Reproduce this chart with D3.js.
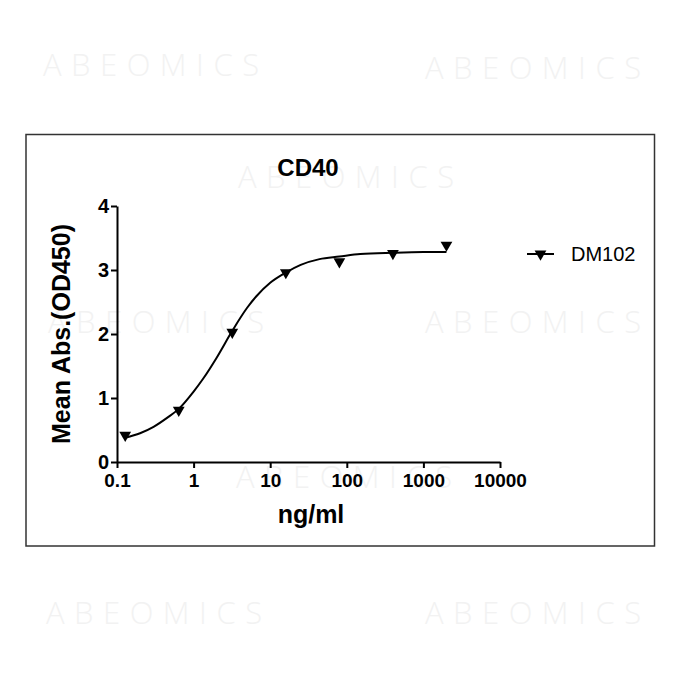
<!DOCTYPE html>
<html>
<head>
<meta charset="utf-8">
<script src="https://cdn.jsdelivr.net/npm/d3@7"></script>
<style>
  body { margin: 0; background: #fff; }
  svg text { font-family: Arial, "Liberation Sans", sans-serif; }
</style>
</head>
<body>
<svg id="chart" width="680" height="680"></svg>
<script>
// measured points (ng/ml vs OD450)
const concentrations = [0.128, 0.64, 3.2, 16, 80, 400, 2000];
const absorbance = [0.42, 0.81, 2.03, 2.96, 3.13, 3.26, 3.39];

// fitted curve
const fitX = [0.128, 0.2, 0.3, 0.45, 0.64, 1, 1.33, 2, 3.2, 5, 6.6, 10, 16, 25, 44, 80, 150, 400, 1000, 2000];
const fitY = [0.38, 0.45, 0.55, 0.69, 0.83, 1.10, 1.30, 1.63, 2.05, 2.41, 2.59, 2.80, 2.96, 3.08, 3.17, 3.21, 3.25, 3.27, 3.28, 3.28];

const xTicks = [0.1, 1, 10, 100, 1000, 10000];
const xTickLabels = ["0.1", "1", "10", "100", "1000", "10000"];
const yTicks = [0, 1, 2, 3, 4];
const seriesName = "DM102";
const watermarkText = "ABEOMICS";

const svg = d3.select("#chart");

// Faint watermarks behind everything
const marks = [[43, 76], [425, 79], [238, 188], [48, 333], [425, 333], [236, 488], [46, 624], [425, 624]];
marks.forEach(m => {
  svg.append("text")
    .attr("x", m[0])
    .attr("y", m[1])
    .attr("fill", "#f2f2f2")
    .style("font-family", "'Open Sans', sans-serif")
    .style("font-weight", 300)
    .style("font-size", "31px")
    .style("letter-spacing", "9.5px")
    .text(watermarkText);
});

// Outer frame
svg.append("rect")
  .attr("x", 26)
  .attr("y", 134.5)
  .attr("width", 628.5)
  .attr("height", 411.5)
  .attr("fill", "none")
  .attr("stroke", "#333")
  .attr("stroke-width", 1.5);

// Scales
const x = d3.scaleLog().domain([0.1, 10000]).range([117, 500]);
const y = d3.scaleLinear().domain([0, 4]).range([462, 206]);

// X axis
const xAxis = svg.append("g")
  .attr("transform", "translate(0," + y(0) + ")")
  .call(d3.axisBottom(x)
    .tickValues(xTicks)
    .tickFormat((d, i) => xTickLabels[i])
    .tickSize(6)
    .tickSizeOuter(0)
    .tickPadding(6));

// Y axis
const yAxis = svg.append("g")
  .attr("transform", "translate(" + x(0.1) + ",0)")
  .call(d3.axisLeft(y)
    .tickValues(yTicks)
    .tickFormat(d3.format("d"))
    .tickSize(6)
    .tickSizeOuter(0)
    .tickPadding(2));

[xAxis, yAxis].forEach(ax => {
  ax.select(".domain").attr("stroke", "#000").attr("stroke-width", 2);
  ax.selectAll(".tick line").attr("stroke", "#000").attr("stroke-width", 2);
  ax.selectAll(".tick text")
    .attr("fill", "#000")
    .style("font-family", "Arial, 'Liberation Sans', sans-serif")
    .style("font-weight", "bold");
});
xAxis.selectAll(".tick text").style("font-size", "19px");
yAxis.selectAll(".tick text").style("font-size", "20px");

// Fitted curve
const line = d3.line()
  .x(d => x(d[0]))
  .y(d => y(d[1]))
  .curve(d3.curveMonotoneX);

svg.append("path")
  .datum(fitX.map((v, i) => [v, fitY[i]]))
  .attr("d", line)
  .attr("fill", "none")
  .attr("stroke", "#000")
  .attr("stroke-width", 2);

// Markers: downward triangles
const tri = d3.symbol().type(d3.symbolTriangle).size(60);
svg.selectAll(".pt")
  .data(concentrations.map((c, i) => [c, absorbance[i]]))
  .enter()
  .append("path")
  .attr("class", "pt")
  .attr("d", tri)
  .attr("transform", d => "translate(" + x(d[0]) + "," + y(d[1]) + ") rotate(180)")
  .attr("fill", "#000");

// Title
svg.append("text")
  .attr("x", 308)
  .attr("y", 176)
  .attr("text-anchor", "middle")
  .style("font-weight", "bold")
  .style("font-size", "24px")
  .text("CD40");

// Axis titles
svg.append("text")
  .attr("x", 311)
  .attr("y", 523)
  .attr("text-anchor", "middle")
  .style("font-weight", "bold")
  .style("font-size", "25px")
  .text("ng/ml");

svg.append("text")
  .attr("transform", "translate(70,334) rotate(-90)")
  .attr("text-anchor", "middle")
  .style("font-weight", "bold")
  .style("font-size", "25px")
  .text("Mean Abs.(OD450)");

// Legend
const legend = svg.append("g").attr("transform", "translate(527,254)");
legend.append("line")
  .attr("x1", 0).attr("x2", 27)
  .attr("y1", 0).attr("y2", 0)
  .attr("stroke", "#000")
  .attr("stroke-width", 2);
legend.append("path")
  .attr("d", tri)
  .attr("transform", "translate(13.5,0) rotate(180)")
  .attr("fill", "#000");
legend.append("text")
  .attr("x", 44)
  .attr("y", 7)
  .style("font-size", "20px")
  .text(seriesName);
</script>
</body>
</html>
